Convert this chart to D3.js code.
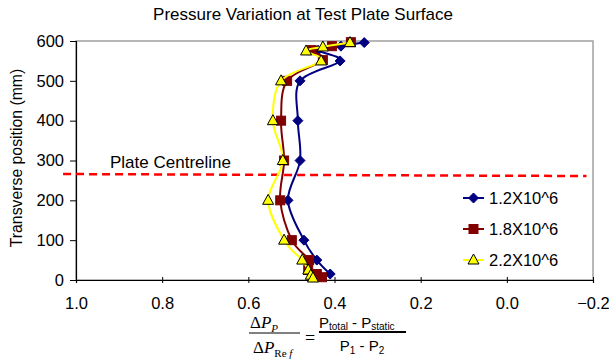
<!DOCTYPE html>
<html><head><meta charset="utf-8">
<script src="https://cdn.jsdelivr.net/npm/d3@7"></script>
<style>body{margin:0;background:#fff}svg{display:block}</style>
</head><body>
<svg id="c" width="609" height="360"></svg>
<script>
// ---- data ----
const seriesNames = ["1.2X10^6", "1.8X10^6", "2.2X10^6"];
const posBlue = [596, 587, 577, 550, 500, 400, 300, 200, 100, 50, 15];
const valBlue = [0.331, 0.385, 0.438, 0.387, 0.480, 0.485, 0.480, 0.508, 0.471, 0.441, 0.410];
const posRed = [597, 587, 577, 552, 500, 400, 300, 200, 100, 50, 25, 15, 7];
const valRed = [0.362, 0.406, 0.453, 0.427, 0.510, 0.524, 0.517, 0.526, 0.499, 0.459, 0.461, 0.441, 0.429];
const posYellow = [596, 585, 575, 550, 500, 400, 300, 200, 100, 50, 25, 12, 5];
const valYellow = [0.364, 0.427, 0.466, 0.431, 0.524, 0.543, 0.520, 0.554, 0.517, 0.475, 0.461, 0.455, 0.450];
const xTicks = [1.0, 0.8, 0.6, 0.4, 0.2, 0.0, -0.2];
const yTicks = [0, 100, 200, 300, 400, 500, 600];
const centreX = [1.03, -0.185];
const centreY = [266, 261];

const svg = d3.select("#c");
const x = d3.scaleLinear().domain([1.0, -0.2]).range([76, 593]);
const y = d3.scaleLinear().domain([0, 600]).range([280, 41]);
const sans = "'Liberation Sans', Arial, sans-serif";
const serif = "'Liberation Serif', 'Times New Roman', serif";

// plot area border (gray)
svg.append("rect").attr("x", x(1)).attr("y", y(600))
  .attr("width", x(-0.2) - x(1)).attr("height", y(0) - y(600))
  .attr("fill", "none").attr("stroke", "#a0a0a0").attr("stroke-width", 1.5);

// axes
const yAxis = d3.axisLeft(y).tickValues(yTicks).tickSize(6).tickPadding(6).tickFormat(d3.format("d"));
const gy = svg.append("g").attr("transform", `translate(${x(1)},0)`).call(yAxis);
const xAxis = d3.axisBottom(x).tickValues(xTicks).tickSize(3).tickPadding(14)
  .tickFormat(d => d3.format(".1f")(d));
const gx = svg.append("g").attr("transform", `translate(0,${y(0)})`).call(xAxis);
gx.selectAll(".tick line").attr("y1", -3);
[gx, gy].forEach(g => {
  g.select(".domain").attr("stroke", "#000").attr("stroke-width", 1.2);
  g.selectAll(".tick line").attr("stroke", "#000");
  g.selectAll("text").attr("font-family", sans).attr("font-size", 16.5).attr("fill", "#000");
});

// centreline
svg.append("line")
  .attr("x1", x(centreX[0])).attr("y1", y(centreY[0]))
  .attr("x2", x(centreX[1])).attr("y2", y(centreY[1]))
  .attr("stroke", "#ff0000").attr("stroke-width", 2.5).attr("stroke-dasharray", "8,5");
svg.append("text").attr("x", 110).attr("y", 168).attr("font-family", sans)
  .attr("font-size", 17).text("Plate Centreline");

// series
const series = [
  {name: seriesNames[0], pos: posBlue, val: valBlue, color: "#000080", marker: "diamond"},
  {name: seriesNames[1], pos: posRed, val: valRed, color: "#800000", marker: "square"},
  {name: seriesNames[2], pos: posYellow, val: valYellow, color: "#ffff00", marker: "triangle"}
];
const line = d3.line().x(d => x(d[1])).y(d => y(d[0])).curve(d3.curveCardinal.tension(0));
function drawMarker(g, type, cx, cy, color) {
  if (type === "diamond") {
    g.append("path").attr("d", `M${cx},${cy-5}L${cx+5},${cy}L${cx},${cy+5}L${cx-5},${cy}Z`)
      .attr("fill", color).attr("stroke", color);
  } else if (type === "square") {
    g.append("rect").attr("x", cx-4.5).attr("y", cy-4.5).attr("width", 9).attr("height", 9)
      .attr("fill", color).attr("stroke", color);
  } else {
    g.append("path").attr("d", `M${cx},${cy-6}L${cx+5.5},${cy+4}L${cx-5.5},${cy+4}Z`)
      .attr("fill", color).attr("stroke", "#000").attr("stroke-width", 1);
  }
}
series.forEach(s => {
  const pts = s.pos.map((p, i) => [p, s.val[i]]);
  const g = svg.append("g");
  g.append("path").attr("d", line(pts)).attr("fill", "none")
    .attr("stroke", s.color).attr("stroke-width", 2);
  pts.forEach(p => drawMarker(g, s.marker, x(p[1]), y(p[0]), s.color));
});

// legend
const legY = [198, 229, 260];
series.forEach((s, i) => {
  const g = svg.append("g");
  g.append("line").attr("x1", 463).attr("x2", 484).attr("y1", legY[i]).attr("y2", legY[i])
    .attr("stroke", s.color).attr("stroke-width", 2);
  drawMarker(g, s.marker, 473.5, legY[i], s.color);
  g.append("text").attr("x", 489).attr("y", legY[i]).attr("dy", "0.36em")
    .attr("font-family", sans).attr("font-size", 16.5).text(s.name);
});

// title
svg.append("text").attr("x", 303).attr("y", 20).attr("text-anchor", "middle")
  .attr("font-family", sans).attr("font-size", 17).text("Pressure Variation at Test Plate Surface");

// y label
svg.append("text").attr("transform", "translate(22,158) rotate(-90)").attr("text-anchor", "middle")
  .attr("font-family", sans).attr("font-size", 15.8).text("Transverse position (mm)");

// formula
const f = svg.append("g");
const num1 = f.append("text").attr("x", 250).attr("y", 328).attr("font-family", serif).attr("font-size", 17);
num1.append("tspan").text("Δ");
num1.append("tspan").attr("font-style", "italic").text("P");
num1.append("tspan").attr("font-style", "italic").attr("font-size", 11).attr("dy", 4).text("P");
f.append("line").attr("x1", 249).attr("x2", 300).attr("y1", 333).attr("y2", 333).attr("stroke", "#000").attr("stroke-width", 1);
const den1 = f.append("text").attr("x", 253).attr("y", 353).attr("font-family", serif).attr("font-size", 17);
den1.append("tspan").text("Δ");
den1.append("tspan").attr("font-style", "italic").text("P");
den1.append("tspan").attr("font-size", 11).attr("dy", 4).text("Re ");
den1.append("tspan").attr("font-size", 11).attr("font-style", "italic").text("f");
f.append("text").attr("x", 310).attr("y", 344).attr("text-anchor", "middle").attr("font-family", serif)
  .attr("font-size", 18).text("=");
const num2 = f.append("text").attr("x", 319).attr("y", 328).attr("font-family", sans).attr("font-size", 15);
num2.append("tspan").text("P");
num2.append("tspan").attr("font-size", 10).attr("dy", 2).text("total");
num2.append("tspan").attr("dy", -2).text(" - P");
num2.append("tspan").attr("font-size", 10).attr("dy", 2).text("static");
f.append("line").attr("x1", 319).attr("x2", 406).attr("y1", 332).attr("y2", 332).attr("stroke", "#000").attr("stroke-width", 2);
const den2 = f.append("text").attr("x", 362).attr("y", 351).attr("text-anchor", "middle").attr("font-family", sans).attr("font-size", 15);
den2.append("tspan").text("P");
den2.append("tspan").attr("font-size", 10).attr("dy", 3).text("1");
den2.append("tspan").attr("dy", -3).text(" - P");
den2.append("tspan").attr("font-size", 10).attr("dy", 3).text("2");
</script>
</body></html>
